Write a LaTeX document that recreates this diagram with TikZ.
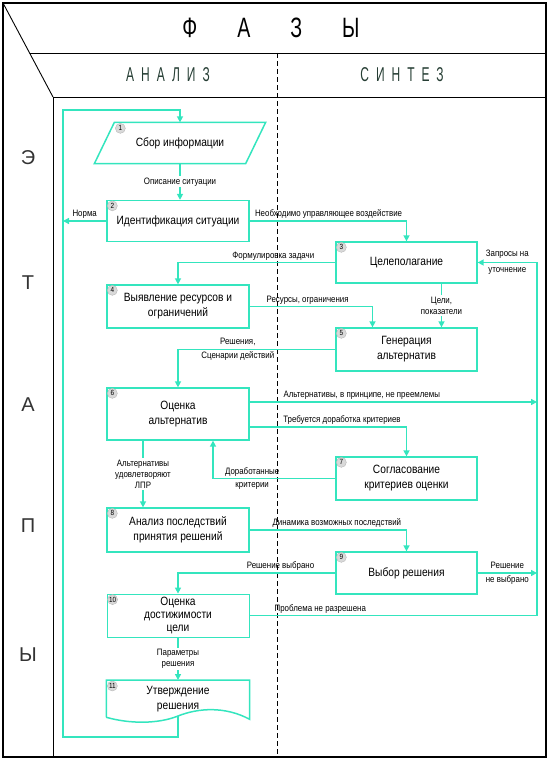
\documentclass[tikz,border=0pt]{standalone}
\usepackage{fontspec}
\setmainfont{Liberation Sans}
\newfontfamily\narrowfont[FakeStretch=0.85]{Liberation Sans}
\newfontfamily\headfont[FakeStretch=0.7]{Liberation Sans}
\newfontfamily\spacedfont[FakeStretch=0.6,LetterSpace=35]{Liberation Sans}
\usetikzlibrary{arrows.meta}
\definecolor{flowcyan}{RGB}{52,229,190}
\definecolor{headgreen}{RGB}{38,62,52}
\tikzset{
	box/.style={draw=flowcyan, line width=1.3pt, align=center, inner sep=2pt,
		font=\narrowfont\fontsize{12}{15}\selectfont},
	leftbox/.style={box, minimum width=142pt},
	rightbox/.style={box, minimum width=141pt},
	badge/.style={circle, fill=gray!30, draw=gray!55, line width=0.4pt, inner sep=0pt,
		minimum size=10pt, font=\narrowfont\fontsize{7.5}{7.5}\selectfont},
	flowline/.style={draw=flowcyan, line width=1.5pt},
	flow/.style={flowline, -{Triangle[length=6pt,width=6pt]}},
	lbl/.style={font=\narrowfont\fontsize{9.3}{11}\selectfont, align=center, inner sep=1.5pt},
}
\begin{document}
\begin{tikzpicture}[x=1pt, y=-1pt]
	\useasboundingbox (0,0) rectangle (549,760);

	\draw [line width=1.2pt]	(3,3) rectangle (546,757);
	\draw [line width=0.9pt]	(3,3) -- (53,97);
	\draw [line width=0.9pt]	(30,53) -- (546,53);
	\draw [line width=0.9pt]	(53,97) -- (546,97);
	\draw [line width=0.9pt]	(53,97) -- (53,757);
	\draw [line width=0.8pt, dash pattern=on 5pt off 3pt]	(277,53) -- (277,757);

	\node [font=\headfont\fontsize{28}{28}\selectfont] (phases) at (271,28) {Ф\hspace{40pt}А\hspace{40pt}З\hspace{40pt}Ы};
	\node [font=\spacedfont\fontsize{20}{20}\selectfont, text=headgreen] (analysis) at (168,75) {АНАЛИЗ};
	\node [font=\spacedfont\fontsize{20}{20}\selectfont, text=headgreen] (synthesis) at (402,75) {СИНТЕЗ};
	\foreach \ch/\y in {Э/158, Т/283, А/405, П/526, Ы/655}
		\node [font=\fontsize{20}{20}\selectfont, text=black!80] (stage\y) at (28,\y) {\ch};

	\node [box, draw=none, minimum width=150pt, minimum height=40pt] (b1) at (180,143) {Сбор информации};
	\draw [flowline]	([xshift=-10pt]b1.south west) -- ([xshift=10pt]b1.north west) -- ([xshift=10pt]b1.north east) -- ([xshift=-10pt]b1.south east) -- cycle;
	\node [leftbox, minimum height=41pt]	(b2) at (178,221) {Идентификация ситуации};
	\node [rightbox, minimum height=41pt]	(b3) at (406.5,262.5) {Целеполагание};
	\node [leftbox, minimum height=43pt]	(b4) at (178,306.5) {Выявление ресурсов и\\ограничений};
	\node [rightbox, minimum height=43pt]	(b5) at (406.5,349.5) {Генерация\\альтернатив};
	\node [leftbox, minimum height=52pt]	(b6) at (178,414) {Оценка\\альтернатив};
	\node [rightbox, minimum height=43pt]	(b7) at (406.5,478.5) {Согласование\\критериев оценки};
	\node [leftbox, minimum height=44pt]	(b8) at (178,530) {Анализ последствий\\принятия решений};
	\node [rightbox, minimum height=42pt]	(b9) at (406.5,573) {Выбор решения};
	\node [leftbox, line width=0.8pt, minimum height=43pt, font=\narrowfont\fontsize{12}{13}\selectfont]	(b10) at (178,615.5) {Оценка\\достижимости\\цели};
	\node [leftbox, draw=none, minimum height=36pt, anchor=north]	(b11) at (178,680) {Утверждение\\решения};
	\coordinate (w11) at (178,716);
	\draw [flowline]	(b11.south west) -- (b11.north west) -- (b11.north east) -- ([yshift=-2pt]b11.south east)
					.. controls (225,706) and (198,708) .. (w11)
					.. controls (158,724) and (130,724) .. (b11.south west);

	\node [badge] (n1) at ([xshift=16pt,yshift=-6pt]b1.north west) {1};
	\foreach \n in {2,...,11}
		\node [badge] (n\n) at ([xshift=6pt,yshift=-6pt]b\n.north west) {\n};

	\coordinate (loopSW) at (63,737);
	\coordinate (loopNW) at (63,110);
	\coordinate (rx) at (537,0);
	\coordinate (b6hi) at ([yshift=12pt]b6.east);
	\coordinate (b6lo) at ([yshift=-13pt]b6.east);

	\draw [flow]	(w11) |- (loopSW) -- (loopNW) -| (b1.north);
	\draw [flow]	(b1.south) -- node [lbl, fill=white] {Описание ситуации} (b1.south |- b2.north);
	\draw [flow]	(b2.west) -- node [lbl, above] {Норма} (b2.west -| loopSW);
	\draw [flow]	(b2.east) -| node [lbl, anchor=south west, pos=0.01] {Необходимо управляющее воздействие} (b3.north);
	\draw [flow]	(b3.west) -| node [lbl, anchor=south east, pos=0.06] {Формулировка задачи} (b4.north);
	\draw [flow]	(b4.east) -| node [lbl, anchor=south west, pos=0.06] {Ресурсы, ограничения} ([xshift=-34pt]b5.north);
	\draw [flow]	([xshift=35pt]b3.south) -- node [lbl, fill=white] {Цели,\\показатели} ([xshift=35pt]b5.north);
	\draw [flow]	(b5.west) -| node [lbl, pos=0.31] {Решения,\\[3pt]Сценарии действий} (b6.north);
	\draw [flow]	(b6hi) -- node [lbl, anchor=south west, pos=0.11] {Альтернативы, в принципе, не преемлемы} (b6hi -| rx);
	\draw [flow]	(b6lo) -| node [lbl, anchor=south west, pos=0.1] {Требуется доработка критериев} (b7.north);
	\draw [flow]	(b7.west) -| node [lbl, pos=0.34] {Доработанные\\[2pt]критерии} ([xshift=35pt]b6.south);
	\draw [flow]	([xshift=-35pt]b6.south) -- node [lbl, fill=white] {Альтернативы\\удовлетворяют\\ЛПР} ([xshift=-35pt]b8.north);
	\draw [flow]	(b8.east) -| node [lbl, anchor=south west, pos=0.066] {Динамика возможных последствий} (b9.north);
	\draw [flow]	(b9.east) -- node [lbl] {Решение\\[3pt]не выбрано} (b9.east -| rx);
	\draw [flow]	(b9.west) -| node [lbl, anchor=south east, pos=0.06] {Решение выбрано} (b10.north);
	\draw [flow]	(b10.east) -| node [lbl, anchor=south west, pos=0.04] {Проблема не разрешена} (b3.east -| rx)
					-- node [lbl] {Запросы на\\[5pt]уточнение} (b3.east);
	\draw [flow]	(b10.south) -- node [lbl, fill=white] {Параметры\\решения} (b11.north);
\end{tikzpicture}
\end{document}
